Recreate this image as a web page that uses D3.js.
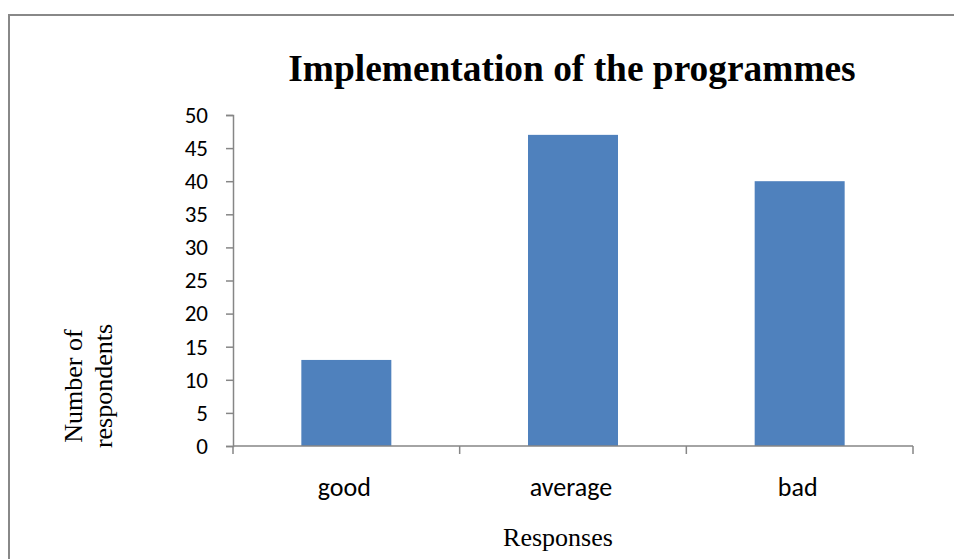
<!DOCTYPE html>
<html><head><meta charset="utf-8">
<script src="https://cdn.jsdelivr.net/npm/d3@7"></script>
<style>html,body{margin:0;padding:0;background:#fff;}</style>
</head><body>
<script>
const categories = ["good", "average", "bad"];
const values = [13, 47, 40];
const yTicks = [0, 5, 10, 15, 20, 25, 30, 35, 40, 45, 50];
const title = "Implementation of the programmes";
const xTitle = "Responses";
const yTitle = ["Number of", "respondents"];

const W = 954, H = 559;
const svg = d3.select("body").append("svg").attr("width", W).attr("height", H);

svg.append("rect").attr("x", 9).attr("y", 15).attr("width", 960).attr("height", 600)
  .attr("fill", "none").attr("stroke", "#888").attr("stroke-width", 2);

const sansFont = "Carlito, Calibri, Lato, sans-serif";
const serifFont = "'Liberation Serif', 'Times New Roman', serif";

const m = {left: 233, right: 913, top: 115, bottom: 446};
const x = d3.scaleBand().domain(categories).range([m.left, m.right]).paddingInner(0.603).paddingOuter(0.3015);
const y = d3.scaleLinear().domain([0, 50]).range([m.bottom, m.top]);

svg.append("g").selectAll("rect").data(values).join("rect")
  .attr("x", (d, i) => x(categories[i])).attr("width", x.bandwidth())
  .attr("y", d => y(d)).attr("height", d => y(0) - y(d)).attr("fill", "#4F81BD");

const yAxis = svg.append("g").attr("transform", `translate(${m.left},0)`)
  .call(d3.axisLeft(y).tickValues(yTicks).tickSize(7).tickPadding(18).tickFormat(d3.format("d")));
yAxis.select(".domain").attr("stroke", "#868686").attr("stroke-width", 1.5);
yAxis.selectAll(".tick line").attr("stroke", "#868686").attr("stroke-width", 1.5);
yAxis.selectAll("text").attr("font-family", sansFont).attr("font-size", 23).attr("fill", "#000");

// x axis with boundary ticks
const xg = svg.append("g").attr("transform", `translate(0,${m.bottom})`);
xg.append("line").attr("x1", m.left).attr("x2", m.right).attr("stroke", "#868686").attr("stroke-width", 1.5);
const bounds = d3.range(categories.length + 1).map(i => m.left + i * (m.right - m.left) / categories.length);
xg.selectAll(".b").data(bounds).join("line").attr("x1", d => d).attr("x2", d => d)
  .attr("y1", 0).attr("y2", 8).attr("stroke", "#868686").attr("stroke-width", 1.5);
xg.selectAll("text").data(categories).join("text")
  .attr("x", d => x(d) + x.bandwidth() / 2 - 2).attr("y", 50).attr("text-anchor", "middle")
  .attr("font-family", sansFont).attr("font-size", 26).text(d => d);

svg.append("text").attr("x", 572).attr("y", 81).attr("text-anchor", "middle")
  .attr("font-family", serifFont).attr("font-weight", "bold")
  .attr("font-size", 37.4).text(title);

svg.append("text").attr("x", 558).attr("y", 546).attr("text-anchor", "middle")
  .attr("font-family", serifFont).attr("font-size", 26).text(xTitle);

const yl = svg.append("text").attr("transform", "translate(82,386) rotate(-90)").attr("text-anchor", "middle")
  .attr("font-family", serifFont).attr("font-size", 26);
yTitle.forEach((t, i) => yl.append("tspan").attr("x", 0).attr("dy", i === 0 ? 0 : 30).text(t));
</script>
</body></html>
